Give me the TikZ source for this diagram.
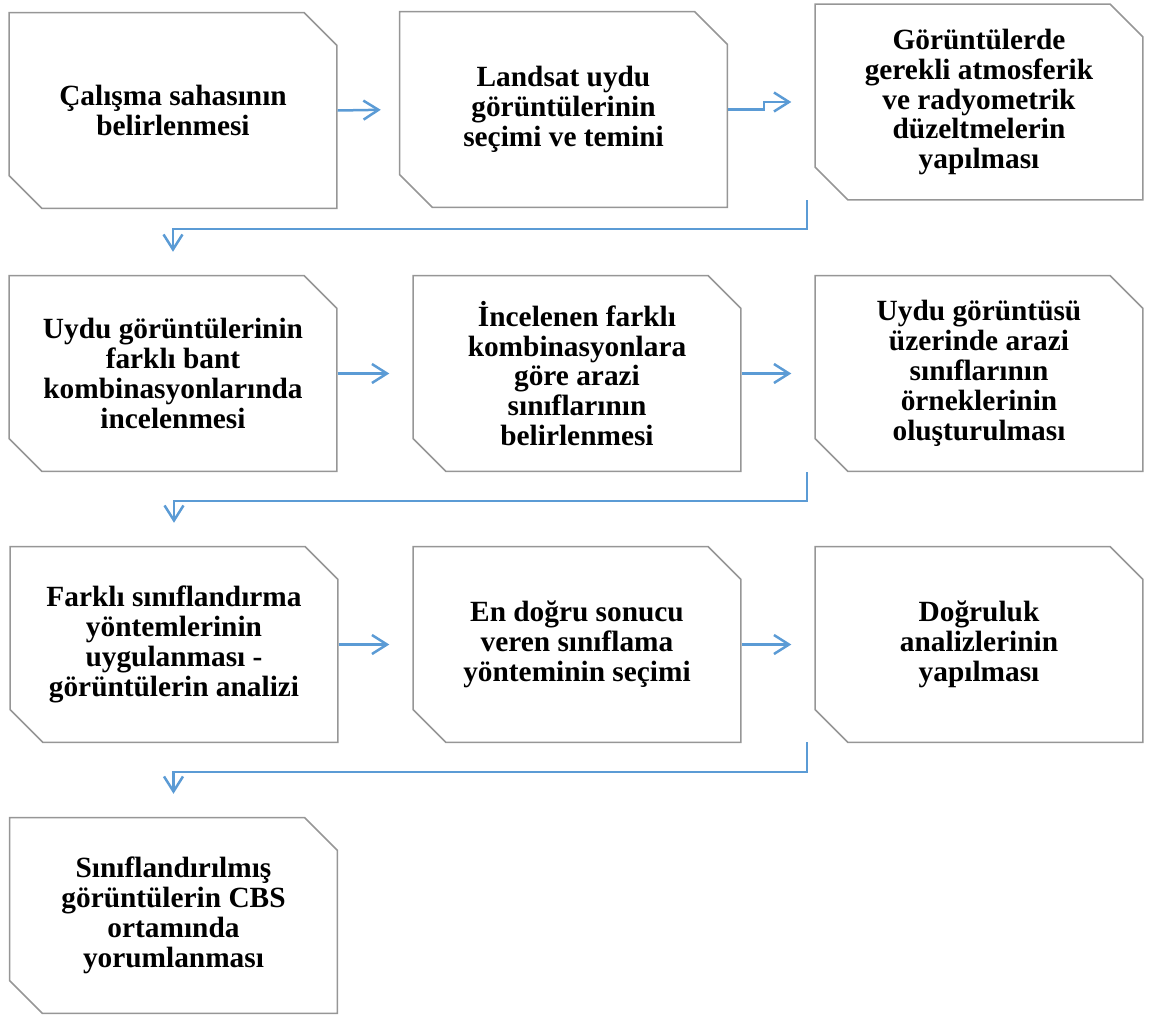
\documentclass[tikz,border=0pt]{standalone}
\usepackage{fontspec}
\setmainfont{Liberation Serif}
\usetikzlibrary{arrows.meta,shapes.misc}
\definecolor{boxgray}{RGB}{150,150,150}
\definecolor{flowblue}{RGB}{91,155,213}
\tikzset{
  stepbox/.style={chamfered rectangle,
    chamfered rectangle corners={north east,south west},
    chamfered rectangle sep=0.33cm,
    draw=boxgray, line width=0.03cm, fill=white,
    minimum width=6.56cm, minimum height=3.92cm, inner sep=0pt,
    align=center, font=\fontsize{16.7}{17}\selectfont\bfseries},
  flow/.style={draw=flowblue, line width=0.05cm,
    -{Straight Barb[length=0.3cm,width=0.38cm]}, shorten >=0.46cm},
}
\begin{document}
\begin{tikzpicture}[x=0.02cm,y=-0.02cm]
  \useasboundingbox (0,0) rectangle (1149,1014);

  % 1. satir
  \node[stepbox] (A) at (173,110.5) {Çalışma sahasının\\belirlenmesi};
  \node[stepbox] (B) at (563.5,109.5) {Landsat uydu\\görüntülerinin\\seçimi ve temini};
  \node[stepbox] (C) at (979,102) {Görüntülerde\\gerekli atmosferik\\ve radyometrik\\düzeltmelerin\\yapılması};

  % 2. satir
  \node[stepbox] (D) at (173,373.5) {Uydu görüntülerinin\\farklı bant\\kombinasyonlarında\\incelenmesi};
  \node[stepbox] (E) at (577,373.5) {İncelenen farklı\\kombinasyonlara\\göre arazi\\sınıflarının\\belirlenmesi};
  \node[stepbox] (F) at (979,373.5) {Uydu görüntüsü\\üzerinde arazi\\sınıflarının\\örneklerinin\\oluşturulması};

  % 3. satir
  \node[stepbox] (G) at (174,644.5) {Farklı sınıflandırma\\yöntemlerinin\\uygulanması -\\görüntülerin analizi};
  \node[stepbox] (H) at (577,644.5) {En doğru sonucu\\veren sınıflama\\yönteminin seçimi};
  \node[stepbox] (I) at (979,644.5) {Doğruluk\\analizlerinin\\yapılması};

  % 4. satir
  \node[stepbox] (J) at (173.5,915.5) {Sınıflandırılmış\\görüntülerin CBS\\ortamında\\yorumlanması};

  % oklar
  \draw[flow,shorten >=0.36cm] (A.east) -- (B.west);
  \draw[flow] (B.east) -- ++(36,0) |- (C.west);
  \draw[flow] (D.east) -- (E.west);
  \draw[flow] (E.east) -- (F.west);
  \draw[flow] (G.east) -- (H.west);
  \draw[flow] (H.east) -- (I.west);

  % satir gecisleri
  \coordinate (c1) at (807,200);
  \coordinate (c2) at (807,472);
  \coordinate (c3) at (807,742);
  \draw[flow] (c1) -- ++(0,29) -| (D.north);
  \draw[flow] (c2) -- ++(0,29) -| (G.north);
  \draw[flow] (c3) -- ++(0,30) -| (J.north);
\end{tikzpicture}
\end{document}
